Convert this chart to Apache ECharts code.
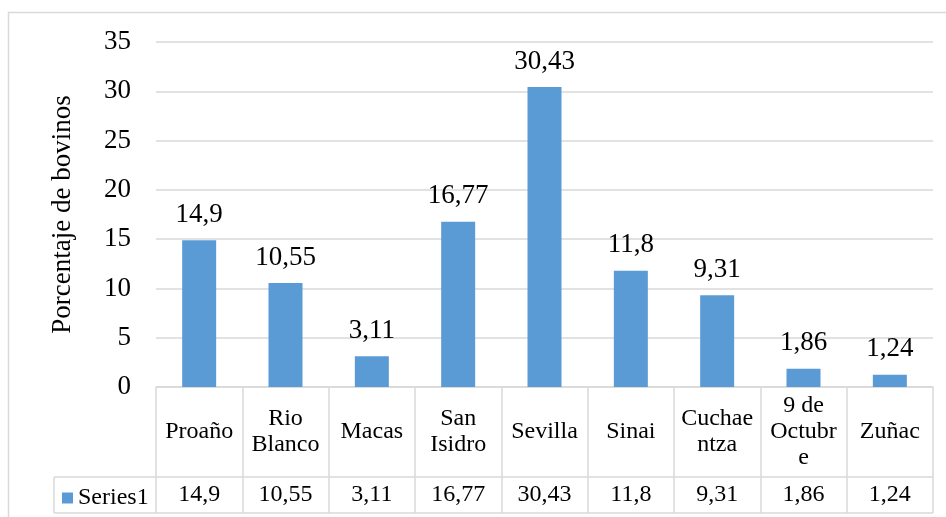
<!DOCTYPE html>
<html>
<head>
<meta charset="utf-8">
<script src="https://cdn.jsdelivr.net/npm/echarts@6/dist/echarts.min.js"></script>
<style>
  html, body { margin: 0; padding: 0; background: #fff; }
  #chart { width: 946px; height: 517px; }
</style>
</head>
<body>
<div id="chart"></div>
<script>
// Parishes (wrapped as they appear in the data table under the bars)
const categories = ['Proaño', 'Rio\nBlanco', 'Macas', 'San\nIsidro', 'Sevilla', 'Sinai', 'Cuchae\nntza', '9 de\nOctubr\ne', 'Zuñac'];
// Percentage of cattle per parish
const values = [14.9, 10.55, 3.11, 16.77, 30.43, 11.8, 9.31, 1.86, 1.24];
const seriesName = 'Series1';
// Y axis ticks
const yMin = 0, yMax = 35, yStep = 5;

const FONT = "'Liberation Serif', 'Times New Roman', serif";
const GRID_COLOR = '#d9d9d9';
const fmt = v => String(v).replace('.', ',');

const chart = echarts.init(document.getElementById('chart'), null, { renderer: 'canvas' });

chart.setOption({
  animation: false,
  backgroundColor: '#ffffff',
  textStyle: { fontFamily: FONT },
  grid: { left: 156, right: 13, top: 42, bottom: 130, containLabel: false },
  legend: {
    data: [seriesName],
    left: 57,
    top: 481,
    padding: 5,
    icon: 'rect',
    itemWidth: 11,
    itemHeight: 11,
    formatter: name => '{s|' + name + '}',
    textStyle: {
      fontFamily: FONT, fontSize: 24, color: '#000',
      rich: { s: { fontFamily: FONT, fontSize: 24, color: '#000' } }
    }
  },
  xAxis: [
    {
      type: 'category',
      data: categories,
      axisLine: { show: true, lineStyle: { color: GRID_COLOR, width: 1.5 } },
      axisTick: { show: true, length: 126, interval: 0, lineStyle: { color: GRID_COLOR, width: 1.5 } },
      axisLabel: {
        interval: 0,
        margin: 45,
        verticalAlign: 'middle',
        fontFamily: FONT,
        fontSize: 24,
        lineHeight: 26,
        color: '#000'
      },
      splitLine: { show: false }
    },
    {
      type: 'category',
      position: 'bottom',
      data: values.map(fmt),
      axisLine: { show: false },
      axisTick: { show: false },
      axisLabel: {
        interval: 0,
        margin: 108,
        verticalAlign: 'middle',
        fontFamily: FONT,
        fontSize: 24,
        color: '#000'
      },
      splitLine: { show: false }
    }
  ],
  yAxis: {
    type: 'value',
    min: yMin,
    max: yMax,
    interval: yStep,
    name: 'Porcentaje de bovinos',
    nameLocation: 'middle',
    nameGap: 80,
    nameRotate: 90,
    nameTextStyle: { fontFamily: FONT, fontSize: 27, color: '#000' },
    axisLine: { show: false },
    axisTick: { show: false },
    axisLabel: { margin: 25, fontFamily: FONT, fontSize: 27, color: '#000' },
    splitLine: { show: true, lineStyle: { color: GRID_COLOR, width: 1.5 } }
  },
  series: [{
    name: seriesName,
    type: 'bar',
    xAxisIndex: 0,
    data: values,
    barWidth: 34,
    itemStyle: { color: '#5b9bd5' },
    label: {
      show: true,
      position: 'top',
      distance: 12,
      formatter: p => fmt(p.value),
      fontFamily: FONT,
      fontSize: 27,
      color: '#000'
    }
  }],
  graphic: [
    // outer chart frame
    { type: 'rect', silent: true, shape: { x: 8.5, y: 12.5, width: 960, height: 540 },
      style: { fill: 'none', stroke: GRID_COLOR, lineWidth: 1.5 } },
    // data table rules
    { type: 'line', silent: true, shape: { x1: 54, y1: 477, x2: 933, y2: 477 },
      style: { stroke: GRID_COLOR, lineWidth: 1.5 } },
    { type: 'line', silent: true, shape: { x1: 54, y1: 513, x2: 933, y2: 513 },
      style: { stroke: GRID_COLOR, lineWidth: 1.5 } },
    { type: 'line', silent: true, shape: { x1: 54, y1: 477, x2: 54, y2: 513 },
      style: { stroke: GRID_COLOR, lineWidth: 1.5 } }
  ]
});
</script>
</body>
</html>
